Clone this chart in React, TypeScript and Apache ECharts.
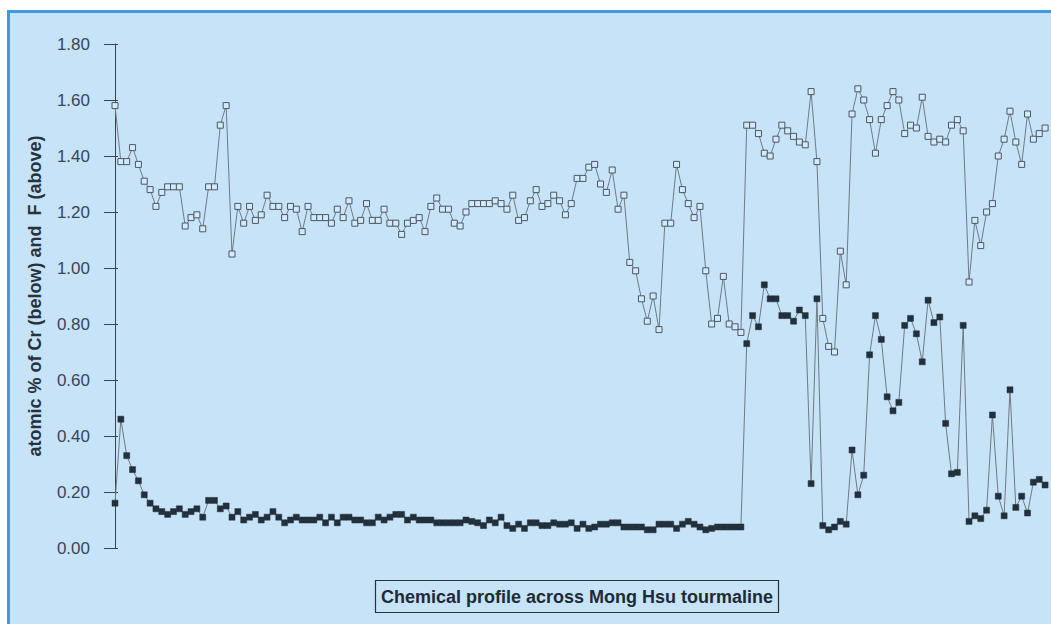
import React, { useEffect, useRef } from "react";
import * as echarts from "echarts";

// F (above), atomic %, one value per analysis spot
const fValues: number[] = [
  1.58, 1.38, 1.38, 1.43, 1.37, 1.31, 1.28, 1.22, 1.27, 1.29,
  1.29, 1.29, 1.15, 1.18, 1.19, 1.14, 1.29, 1.29, 1.51, 1.58,
  1.05, 1.22, 1.16, 1.22, 1.17, 1.19, 1.26, 1.22, 1.22, 1.18,
  1.22, 1.21, 1.13, 1.22, 1.18, 1.18, 1.18, 1.16, 1.21, 1.18,
  1.24, 1.16, 1.17, 1.23, 1.17, 1.17, 1.21, 1.16, 1.16, 1.12,
  1.16, 1.17, 1.18, 1.13, 1.22, 1.25, 1.21, 1.21, 1.16, 1.15,
  1.20, 1.23, 1.23, 1.23, 1.23, 1.24, 1.23, 1.21, 1.26, 1.17,
  1.18, 1.24, 1.28, 1.22, 1.23, 1.26, 1.24, 1.19, 1.23, 1.32,
  1.32, 1.36, 1.37, 1.30, 1.27, 1.35, 1.21, 1.26, 1.02, 0.99,
  0.89, 0.81, 0.90, 0.78, 1.16, 1.16, 1.37, 1.28, 1.23, 1.18,
  1.22, 0.99, 0.80, 0.82, 0.97, 0.80, 0.79, 0.77, 1.51, 1.51,
  1.48, 1.41, 1.40, 1.46, 1.51, 1.49, 1.47, 1.45, 1.44, 1.63,
  1.38, 0.82, 0.72, 0.70, 1.06, 0.94, 1.55, 1.64, 1.60, 1.53,
  1.41, 1.53, 1.58, 1.63, 1.60, 1.48, 1.51, 1.50, 1.61, 1.47,
  1.45, 1.46, 1.45, 1.51, 1.53, 1.49, 0.95, 1.17, 1.08, 1.20,
  1.23, 1.40, 1.46, 1.56, 1.45, 1.37, 1.55, 1.46, 1.48, 1.50,
];

// Cr (below), atomic %
const crValues: number[] = [
  0.16, 0.46, 0.33, 0.28, 0.24, 0.19, 0.16, 0.14, 0.13, 0.12,
  0.13, 0.14, 0.12, 0.13, 0.14, 0.11, 0.17, 0.17, 0.14, 0.15,
  0.11, 0.13, 0.10, 0.11, 0.12, 0.10, 0.11, 0.13, 0.11, 0.09,
  0.10, 0.11, 0.10, 0.10, 0.10, 0.11, 0.09, 0.11, 0.09, 0.11,
  0.11, 0.10, 0.10, 0.09, 0.09, 0.11, 0.10, 0.11, 0.12, 0.12,
  0.10, 0.11, 0.10, 0.10, 0.10, 0.09, 0.09, 0.09, 0.09, 0.09,
  0.10, 0.095, 0.09, 0.08, 0.10, 0.09, 0.11, 0.08, 0.07, 0.085,
  0.07, 0.09, 0.09, 0.08, 0.08, 0.09, 0.085, 0.085, 0.09, 0.07,
  0.085, 0.07, 0.075, 0.085, 0.085, 0.09, 0.09, 0.075, 0.075, 0.075,
  0.075, 0.065, 0.065, 0.085, 0.085, 0.085, 0.07, 0.085, 0.095, 0.085,
  0.075, 0.065, 0.07, 0.075, 0.075, 0.075, 0.075, 0.075, 0.73, 0.83,
  0.79, 0.94, 0.89, 0.89, 0.83, 0.83, 0.81, 0.85, 0.83, 0.23,
  0.89, 0.08, 0.065, 0.075, 0.095, 0.085, 0.35, 0.19, 0.26, 0.69,
  0.83, 0.745, 0.54, 0.49, 0.52, 0.795, 0.82, 0.765, 0.665, 0.885,
  0.805, 0.825, 0.445, 0.265, 0.27, 0.795, 0.095, 0.115, 0.105, 0.135,
  0.475, 0.185, 0.115, 0.565, 0.145, 0.185, 0.125, 0.235, 0.245, 0.225,
];

const yTicks: number[] = [0, 0.2, 0.4, 0.6, 0.8, 1.0, 1.2, 1.4, 1.6, 1.8];

const yAxisName = "atomic % of Cr (below) and  F (above)";
const chartTitle = "Chemical profile across Mong Hsu tourmaline";

const FONT = "'Liberation Sans', Arial, Helvetica, sans-serif";

export default function App() {
  const ref = useRef<HTMLDivElement>(null);

  useEffect(() => {
    if (!ref.current) return;
    const chart = echarts.init(ref.current, undefined, { renderer: "svg" });

    const fData = fValues.map((v, i) => [i, v]);
    const crData = crValues.map((v, i) => [i, v]);
    const yMin = yTicks[0];
    const yMax = yTicks[yTicks.length - 1];
    const yInterval = yTicks[1] - yTicks[0];

    const axisColor = "#3a4450";

    chart.setOption({
      animation: false,
      backgroundColor: "#ffffff",
      grid: { left: 111, right: 3, top: 44, bottom: 76, containLabel: false },
      xAxis: {
        type: "value",
        min: -0.684,
        max: 159.5,
        show: false,
      },
      yAxis: [
        {
          type: "value",
          min: yMin,
          max: yMax,
          interval: yInterval,
          position: "left",
          axisLine: { show: true, lineStyle: { color: axisColor, width: 1 } },
          axisTick: { show: true, length: 11, lineStyle: { color: axisColor, width: 1 } },
          axisLabel: {
            formatter: (v: number) => v.toFixed(2),
            fontSize: 17,
            color: "#3a4652",
            margin: 21,
            fontFamily: FONT,
          },
          splitLine: { show: false },
          name: yAxisName,
          nameLocation: "middle",
          nameGap: 67,
          nameTextStyle: {
            fontSize: 18,
            fontWeight: "bold",
            color: "#27323d",
            fontFamily: FONT,
          },
        },
        {
          type: "value",
          min: yMin,
          max: yMax,
          interval: yInterval,
          position: "left",
          offset: 0,
          axisLine: { show: false },
          axisTick: { show: true, inside: true, length: 7, lineStyle: { color: axisColor, width: 1 } },
          axisLabel: { show: false },
          splitLine: { show: false },
        },
      ],
      series: [
        {
          name: "F",
          type: "line",
          yAxisIndex: 0,
          data: fData,
          symbol: "rect",
          symbolSize: 6,
          showAllSymbol: true,
          lineStyle: { color: "#6f7a85", width: 1 },
          itemStyle: { color: "#d2eafa", borderColor: "#4c5763", borderWidth: 1 },
          z: 3,
        },
        {
          name: "Cr",
          type: "line",
          yAxisIndex: 0,
          data: crData,
          symbol: "rect",
          symbolSize: 6,
          showAllSymbol: true,
          lineStyle: { color: "#6f7a85", width: 1 },
          itemStyle: { color: "#22303c", borderColor: "#22303c", borderWidth: 0.5 },
          z: 4,
        },
      ],
      graphic: [
        {
          type: "rect",
          z: -100,
          silent: true,
          shape: { x: 8.5, y: 11.5, width: 1100, height: 700 },
          style: { fill: "#c6e3f7", stroke: "#3d9be0", lineWidth: 3 },
        },
        {
          type: "rect",
          z: 10,
          silent: true,
          shape: { x: 375.5, y: 580.5, width: 403, height: 32 },
          style: { fill: "none", stroke: "#2a333c", lineWidth: 1.2 },
        },
        {
          type: "text",
          z: 10,
          silent: true,
          x: 577,
          y: 597,
          style: {
            text: chartTitle,
            fill: "#1f2a36",
            font: `bold 18px ${FONT}`,
            align: "center",
            verticalAlign: "middle",
          },
        },
      ],
    });

    return () => {
      chart.dispose();
    };
  }, []);

  return (
    <div
      ref={ref}
      style={{ position: "absolute", left: 0, top: 0, width: 1051, height: 624 }}
    />
  );
}
